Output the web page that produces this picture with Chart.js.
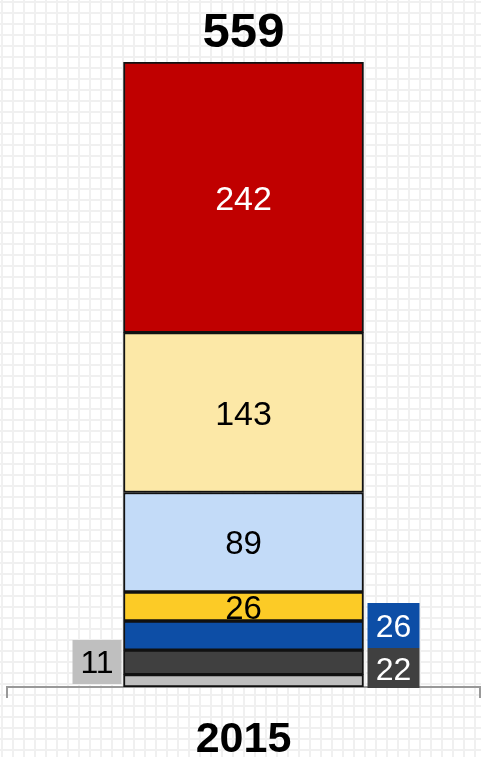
<!DOCTYPE html>
<html>
<head>
<meta charset="utf-8">
<script src="https://cdn.jsdelivr.net/npm/chart.js@4.4.1/dist/chart.umd.min.js"></script>
<style>
  html, body {
    margin: 0;
    padding: 0;
    width: 481px;
    height: 757px;
    overflow: hidden;
    background-color: #ffffff;
    background-image:
      linear-gradient(#f0f0f0 2px, transparent 2px),
      linear-gradient(90deg, #f0f0f0 2px, transparent 2px);
    background-size: 11px 11px;
    background-position: 1px 1px;
  }
  canvas { display: block; }
</style>
</head>
<body>
<canvas id="stackChart" width="481" height="757"></canvas>
<script>
const categories = ["2015"];

// bottom to top
const seriesValues = [11, 22, 26, 26, 89, 143, 242];
const seriesColors = ["#bfbfbf", "#404040", "#0d4ea6", "#fccb26", "#c3dbf8", "#fce8a7", "#c00000"];
const labelColors = ["#000000", "#ffffff", "#ffffff", "#000000", "#000000", "#000000", "#ffffff"];
// where each value label goes: "in" = centred in segment, "left"/"right" = boxed beside the bar
const labelPlace = ["left", "right", "right", "in", "in", "in", "in"];

const yMax = seriesValues.reduce((a, b) => a + b, 0);

const FONT = "'Liberation Sans', Arial, sans-serif";

const segmentLabels = {
  id: "segmentLabels",
  afterDraw(chart) {
    const c = chart.ctx;
    const yScale = chart.scales.y;
    c.save();
    c.textAlign = "center";
    c.textBaseline = "middle";

    let barLeft = 0, barRight = 0, barTop = yScale.getPixelForValue(yMax);
    const baseY = yScale.getPixelForValue(0);
    const rightBoxes = [];

    seriesValues.forEach((v, i) => {
      const bar = chart.getDatasetMeta(i).data[0];
      if (!bar) return;
      barLeft = bar.x - bar.width / 2;
      barRight = bar.x + bar.width / 2;
      if (labelPlace[i] === "in") {
        c.font = `${i === 6 || i === 5 ? 34 : 33}px ${FONT}`;
        c.fillStyle = labelColors[i];
        c.fillText(String(v), bar.x, (bar.y + bar.base) / 2 + 3);
      } else if (labelPlace[i] === "right") {
        rightBoxes.push(i);
      }
    });

    // boxed labels on the left
    seriesValues.forEach((v, i) => {
      if (labelPlace[i] !== "left") return;
      const w = 49, h = 44;
      const x0 = barLeft - 2 - w;
      const y0 = baseY - 3 - h;
      c.fillStyle = seriesColors[i];
      c.fillRect(x0, y0, w, h);
      c.font = `32px ${FONT}`;
      c.fillStyle = labelColors[i];
      c.fillText(String(v), x0 + w / 2, y0 + h / 2 + 2);
    });

    // boxed labels on the right, stacked up from the axis
    let yBottom = baseY + 1;
    rightBoxes.forEach((i, k) => {
      const w = 52, h = k === 0 ? 40 : 45;
      const x0 = barRight + 4;
      const y0 = yBottom - h;
      c.fillStyle = seriesColors[i];
      c.fillRect(x0, y0, w, h);
      c.font = `32px ${FONT}`;
      c.fillStyle = labelColors[i];
      c.fillText(String(seriesValues[i]), x0 + w / 2, y0 + h / 2 + 3);
      yBottom = y0;
    });

    // total on top
    c.font = `bold 49px ${FONT}`;
    c.fillStyle = "#000000";
    c.fillText(String(yMax), (barLeft + barRight) / 2, barTop - 29);
    c.restore();
  },
};

const ctx = document.getElementById("stackChart");

new Chart(ctx, {
  type: "bar",
  data: {
    labels: categories,
    datasets: seriesValues.map((v, i) => ({
      label: `s${i + 1}`,
      data: [v],
      backgroundColor: seriesColors[i],
      borderColor: "#111111",
      borderWidth: 2,
      borderSkipped: false,
      barThickness: 240,
      stack: "one",
    })),
  },
  options: {
    responsive: false,
    animation: false,
    devicePixelRatio: 1,
    layout: { padding: { left: 7, right: 1, top: 62, bottom: 0 } },
    plugins: {
      legend: { display: false },
      tooltip: { enabled: false },
    },
    scales: {
      x: {
        stacked: true,
        afterFit: (s) => { s.height = 70; },
        grid: {
          offset: true,
          drawOnChartArea: false,
          drawTicks: true,
          tickLength: 11,
          color: "#999999",
          lineWidth: 2,
        },
        border: { display: true, color: "#999999", width: 2 },
        ticks: {
          color: "#000000",
          padding: 16,
          font: { family: FONT, size: 43, weight: "bold" },
        },
      },
      y: {
        stacked: true,
        display: false,
        min: 0,
        max: yMax,
      },
    },
  },
  plugins: [segmentLabels],
});
</script>
</body>
</html>
